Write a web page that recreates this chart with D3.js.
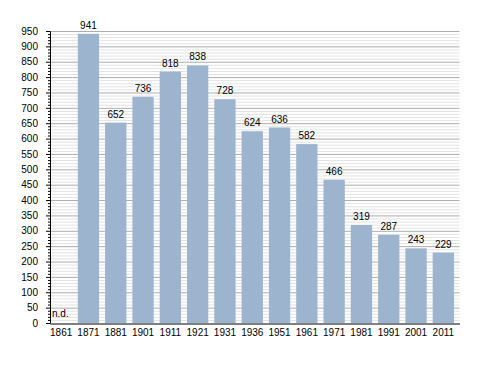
<!DOCTYPE html>
<html>
<head>
<meta charset="utf-8">
<script src="https://cdn.jsdelivr.net/npm/d3@7"></script>
<style>
  body { margin: 0; background: #fff; }
  text { font-family: "Liberation Sans", Arial, sans-serif; font-size: 10px; fill: #000; }
</style>
</head>
<body>
<svg id="chart"></svg>
<script>
// census years and population (1861 has no data)
const years = ["1861","1871","1881","1901","1911","1921","1931","1936","1951","1961","1971","1981","1991","2001","2011"]
const population = [null,941,652,736,818,838,728,624,636,582,466,319,287,243,229]
const yTicks = d3.range(0, 951, 50)
const minorTicks = d3.range(0, 951, 10)

const W = 488, H = 373
const mLeft = 50, mRight = 459.5, mTop = 31, mBottom = 323

const svg = d3.select('#chart').attr('width', W).attr('height', H)

const x = d3.scaleBand().domain(years).range([mLeft, mRight]).paddingInner(0)
const y = d3.scaleLinear().domain([0, 950]).range([mBottom, mTop])

// minor grid lines
svg.append('g')
  .selectAll('line')
  .data(minorTicks.filter(d => d % 50 != 0))
  .join('line')
    .attr('x1', mLeft).attr('x2', mRight)
    .attr('y1', d => y(d) + 0.5).attr('y2', d => y(d) + 0.5)
    .attr('stroke', '#e2e2e2')

// major grid lines
svg.append('g')
  .selectAll('line')
  .data(yTicks.filter(d => d > 0))
  .join('line')
    .attr('x1', mLeft).attr('x2', mRight)
    .attr('y1', d => y(d) + 0.5).attr('y2', d => y(d) + 0.5)
    .attr('stroke', '#adadad')

const bw = x.bandwidth() * 0.78
const data = years.map((yr, i) => ({year: yr, value: population[i]}))

svg.append('g')
  .selectAll('rect')
  .data(data.filter(d => d.value != null))
  .join('rect')
    .attr('x', d => x(d.year) + 0.5)
    .attr('width', bw)
    .attr('y', d => y(d.value))
    .attr('height', d => y(0) - y(d.value))
    .attr('fill', '#9cb4cd')

// value labels
svg.append('g')
  .selectAll('text')
  .data(data.filter(d => d.value != null))
  .join('text')
    .attr('x', d => x(d.year) + 0.5 + bw / 2)
    .attr('y', d => y(d.value) - 5)
    .attr('text-anchor', 'middle')
    .text(d => d.value)

// n.d. label
svg.append('text')
  .attr('x', x(years[0]) + 2)
  .attr('y', y(0) - 6)
  .text('n.d.')

// y axis
const yAxis = svg.append('g')
  .attr('transform', `translate(${mLeft},0)`)
  .call(d3.axisLeft(y).tickValues(yTicks).tickSize(4).tickPadding(8))
yAxis.select('.domain').attr('stroke', '#000')
yAxis.selectAll('text').style('font-size', '10px').style('font-family', '"Liberation Sans", Arial, sans-serif')

svg.append('g')
  .selectAll('line')
  .data(minorTicks.filter(d => d % 50 != 0))
  .join('line')
    .attr('x1', mLeft - 2).attr('x2', mLeft)
    .attr('y1', d => y(d) + 0.5).attr('y2', d => y(d) + 0.5)
    .attr('stroke', '#000')

// x axis, labels centred under the bars
const xAxis = svg.append('g')
  .attr('transform', `translate(0,${mBottom + 0.5})`)
  .call(d3.axisBottom(x).tickSize(0).tickPadding(5))
xAxis.select('.domain').attr('stroke', '#000')
xAxis.selectAll('text')
  .attr('x', 0.5 + bw / 2 - x.bandwidth() / 2)
  .style('font-size', '10px').style('font-family', '"Liberation Sans", Arial, sans-serif')
</script>
</body>
</html>
